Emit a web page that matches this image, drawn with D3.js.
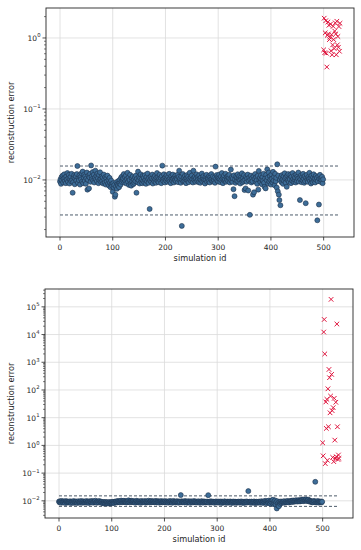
<!DOCTYPE html>
<html>
<head>
<meta charset="utf-8">
<script src="https://d3js.org/d3.v7.min.js"></script>
<style>
    body { margin: 0; background: #fff; }
    text { font-family: "DejaVu Sans", sans-serif; fill: #262626; }
</style>
</head>
<body>
<script>
// reconstruction error per simulation, ids 0..499 normal, 500.. anomalous
const topNormal = [
    0.0095, 0.0102, 0.0088, 0.0110, 0.0098, 0.0115, 0.0092, 0.0105, 0.0120, 0.0097, 0.0108, 0.0090, 0.0112, 0.0101, 0.0125, 0.0094, 0.0106, 0.0118, 0.0089, 0.0103,
    0.0111, 0.0096, 0.0122, 0.0100, 0.0066, 0.0093, 0.0109, 0.0117, 0.0087, 0.0104, 0.0113, 0.0098, 0.0121, 0.0157, 0.0091, 0.0107, 0.0099, 0.0116, 0.0086, 0.0110,
    0.0102, 0.0124, 0.0095, 0.0131, 0.0090, 0.0108, 0.0119, 0.0097, 0.0113, 0.0088, 0.0105, 0.0127, 0.0073, 0.0100, 0.0115, 0.0076, 0.0109, 0.0122, 0.0094, 0.0160,
    0.0111, 0.0103, 0.0129, 0.0098, 0.0118, 0.0092, 0.0107, 0.0135, 0.0101, 0.0114, 0.0096, 0.0123, 0.0106, 0.0090, 0.0117, 0.0099, 0.0128, 0.0104, 0.0093, 0.0112,
    0.0097, 0.0108, 0.0089, 0.0119, 0.0102, 0.0091, 0.0110, 0.0086, 0.0105, 0.0095, 0.0115, 0.0088, 0.0100, 0.0083, 0.0107, 0.0092, 0.0079, 0.0098, 0.0087, 0.0082,
    0.0068, 0.0090, 0.0078, 0.0085, 0.0058, 0.0062, 0.0080, 0.0093, 0.0075, 0.0088, 0.0083, 0.0097, 0.0079, 0.0091, 0.0101, 0.0086, 0.0108, 0.0094, 0.0113, 0.0099,
    0.0105, 0.0121, 0.0092, 0.0110, 0.0097, 0.0116, 0.0089, 0.0103, 0.0126, 0.0094, 0.0108, 0.0085, 0.0100, 0.0118, 0.0088, 0.0083, 0.0106, 0.0095, 0.0112, 0.0087,
    0.0101, 0.0091, 0.0109, 0.0096, 0.0115, 0.0066, 0.0104, 0.0093, 0.0131, 0.0099, 0.0111, 0.0089, 0.0106, 0.0120, 0.0094, 0.0102, 0.0090, 0.0114, 0.0097, 0.0108,
    0.0092, 0.0117, 0.0100, 0.0088, 0.0110, 0.0096, 0.0123, 0.0103, 0.0091, 0.0107, 0.0039, 0.0098, 0.0112, 0.0094, 0.0105, 0.0119, 0.0089, 0.0101, 0.0109, 0.0095,
    0.0114, 0.0102, 0.0091, 0.0108, 0.0125, 0.0097, 0.0110, 0.0093, 0.0104, 0.0118, 0.0099, 0.0107, 0.0090, 0.0113, 0.0159, 0.0101, 0.0096, 0.0120, 0.0105, 0.0092,
    0.0109, 0.0098, 0.0116, 0.0103, 0.0094, 0.0111, 0.0100, 0.0122, 0.0095, 0.0106, 0.0090, 0.0113, 0.0101, 0.0097, 0.0119, 0.0104, 0.0092, 0.0108, 0.0099, 0.0115,
    0.0096, 0.0107, 0.0102, 0.0118, 0.0093, 0.0110, 0.0135, 0.0099, 0.0105, 0.0091, 0.0112, 0.00225, 0.0100, 0.0121, 0.0095, 0.0108, 0.0097, 0.0114, 0.0103, 0.0090,
    0.0106, 0.0117, 0.0098, 0.0111, 0.0093, 0.0104, 0.0126, 0.0100, 0.0109, 0.0096, 0.0115, 0.0102, 0.0092, 0.0135, 0.0107, 0.0099, 0.0112, 0.0094, 0.0105, 0.0120,
    0.0097, 0.0110, 0.0101, 0.0093, 0.0116, 0.0104, 0.0091, 0.0108, 0.0099, 0.0123, 0.0095, 0.0106, 0.0113, 0.0098, 0.0102, 0.0089, 0.0111, 0.0100, 0.0118, 0.0094,
    0.0107, 0.0103, 0.0096, 0.0114, 0.0092, 0.0109, 0.0101, 0.0121, 0.0097, 0.0105, 0.0112, 0.0094, 0.0100, 0.0108, 0.0091, 0.0154, 0.0104, 0.0117, 0.0098, 0.0110,
    0.0095, 0.0106, 0.0119, 0.0102, 0.0093, 0.0111, 0.0099, 0.0125, 0.0104, 0.0090, 0.0108, 0.0115, 0.0097, 0.0101, 0.0122, 0.0094, 0.0109, 0.0100, 0.0113, 0.0096,
    0.0107, 0.0118, 0.0092, 0.0103, 0.0140, 0.0098, 0.0110, 0.0094, 0.0105, 0.0074, 0.0116, 0.0059, 0.0101, 0.0091, 0.0112, 0.0097, 0.0108, 0.0120, 0.0095, 0.0104,
    0.0113, 0.0099, 0.0089, 0.0109, 0.0102, 0.0124, 0.0093, 0.0106, 0.0097, 0.0117, 0.0072, 0.0100, 0.0076, 0.0111, 0.0094, 0.0105, 0.0119, 0.0071, 0.0098, 0.0108,
    0.00322, 0.0101, 0.0115, 0.0092, 0.0106, 0.0096, 0.0062, 0.0112, 0.0067, 0.0103, 0.0121, 0.0094, 0.0109, 0.0099, 0.0088, 0.0114, 0.0073, 0.0134, 0.0100, 0.0107,
    0.0093, 0.0116, 0.0102, 0.0087, 0.0110, 0.0097, 0.0122, 0.0091, 0.0080, 0.0105, 0.0076, 0.0118, 0.0099, 0.0141, 0.0108, 0.0089, 0.0127, 0.0095, 0.0113, 0.0101,
    0.0086, 0.0119, 0.0104, 0.0092, 0.0130, 0.0098, 0.0111, 0.0084, 0.0122, 0.0096, 0.0107, 0.0078, 0.0166, 0.0069, 0.0115, 0.0062, 0.0052, 0.0100, 0.0044, 0.0109,
    0.0093, 0.0117, 0.0101, 0.0088, 0.0112, 0.0097, 0.0124, 0.0105, 0.0091, 0.0109, 0.0080, 0.0115, 0.0099, 0.0121, 0.0094, 0.0106, 0.0102, 0.0118, 0.0090, 0.0111,
    0.0098, 0.0125, 0.0103, 0.0094, 0.0114, 0.0100, 0.0108, 0.0092, 0.0119, 0.0097, 0.0111, 0.0104, 0.0127, 0.0095, 0.0107, 0.0052, 0.0101, 0.0116, 0.0093, 0.0110,
    0.0099, 0.0122, 0.0105, 0.0091, 0.0113, 0.0096, 0.0047, 0.0108, 0.0118, 0.0100, 0.0094, 0.0110, 0.0103, 0.0126, 0.0097, 0.0106, 0.0089, 0.0115, 0.0101, 0.0093,
    0.0109, 0.0120, 0.0098, 0.0104, 0.0092, 0.0114, 0.0100, 0.0107, 0.0027, 0.0096, 0.0112, 0.0045, 0.0103, 0.0118, 0.0094, 0.0105, 0.0099, 0.0111, 0.0090, 0.0102
];
const topAnomaly = [
    0.68, 1.90, 0.62, 1.18, 1.75, 0.61, 0.39, 1.09, 1.68, 1.14, 1.51, 0.95, 1.02, 1.57, 0.66, 1.11,
    0.58, 0.80, 1.46, 0.95, 0.71, 1.25, 1.63, 1.14, 0.58, 1.72, 0.80, 1.05, 0.74, 1.45, 0.65, 1.61
];
const bottomNormal = [
    0.0094, 0.0088, 0.0097, 0.0091, 0.0085, 0.0099, 0.0090, 0.0093, 0.0087, 0.0096, 0.0089, 0.0092, 0.0084, 0.0098, 0.0091, 0.0086, 0.0095, 0.0090, 0.0088, 0.0093,
    0.0087, 0.0096, 0.0090, 0.0083, 0.0094, 0.0089, 0.0092, 0.0086, 0.0098, 0.0091, 0.0085, 0.0093, 0.0088, 0.0095, 0.0090, 0.0084, 0.0092, 0.0097, 0.0087, 0.0091,
    0.0093, 0.0086, 0.0099, 0.0089, 0.0092, 0.0085, 0.0096, 0.0090, 0.0088, 0.0094, 0.0087, 0.0091, 0.0098, 0.0086, 0.0093, 0.0089, 0.0095, 0.0084, 0.0092, 0.0097,
    0.0090, 0.0094, 0.0087, 0.0099, 0.0091, 0.0086, 0.0095, 0.0089, 0.0093, 0.0101, 0.0088, 0.0092, 0.0085, 0.0096, 0.0090, 0.0094, 0.0087, 0.0098, 0.0091, 0.0089,
    0.0086, 0.0092, 0.0084, 0.0089, 0.0081, 0.0090, 0.0085, 0.0088, 0.0082, 0.0091, 0.0086, 0.0083, 0.0089, 0.0080, 0.0087, 0.0084, 0.0090, 0.0082, 0.0088, 0.0085,
    0.0089, 0.0083, 0.0092, 0.0086, 0.0090, 0.0084, 0.0094, 0.0088, 0.0091, 0.0096, 0.0087, 0.0093, 0.0099, 0.0090, 0.0095, 0.0088, 0.0097, 0.0092, 0.0102, 0.0091,
    0.0096, 0.0089, 0.0094, 0.0100, 0.0092, 0.0098, 0.0090, 0.0095, 0.0087, 0.0093, 0.0099, 0.0091, 0.0104, 0.0094, 0.0088, 0.0097, 0.0092, 0.0101, 0.0095, 0.0090,
    0.0093, 0.0098, 0.0088, 0.0095, 0.0091, 0.0086, 0.0094, 0.0100, 0.0089, 0.0096, 0.0092, 0.0087, 0.0097, 0.0090, 0.0094, 0.0085, 0.0093, 0.0099, 0.0088, 0.0091,
    0.0095, 0.0089, 0.0092, 0.0098, 0.0086, 0.0094, 0.0090, 0.0096, 0.0088, 0.0093, 0.0101, 0.0091, 0.0087, 0.0095, 0.0092, 0.0099, 0.0089, 0.0094, 0.0090, 0.0097,
    0.0092, 0.0088, 0.0096, 0.0091, 0.0099, 0.0087, 0.0094, 0.0090, 0.0097, 0.0093, 0.0086, 0.0095, 0.0089, 0.0092, 0.0098, 0.0091, 0.0088, 0.0094, 0.0090, 0.0096,
    0.0089, 0.0093, 0.0097, 0.0087, 0.0092, 0.0095, 0.0090, 0.0086, 0.0094, 0.0091, 0.0098, 0.0088, 0.0093, 0.0096, 0.0090, 0.0085, 0.0092, 0.0099, 0.0089, 0.0094,
    0.0091, 0.0087, 0.0095, 0.0090, 0.0097, 0.0088, 0.0093, 0.0086, 0.0094, 0.0092, 0.0089, 0.0161, 0.0096, 0.0091, 0.0088, 0.0095, 0.0090, 0.0093, 0.0087, 0.0098,
    0.0092, 0.0089, 0.0094, 0.0086, 0.0091, 0.0097, 0.0088, 0.0093, 0.0090, 0.0085, 0.0096, 0.0092, 0.0089, 0.0094, 0.0087, 0.0091, 0.0098, 0.0090, 0.0093, 0.0088,
    0.0095, 0.0090, 0.0087, 0.0093, 0.0089, 0.0096, 0.0091, 0.0085, 0.0092, 0.0088, 0.0094, 0.0097, 0.0090, 0.0086, 0.0093, 0.0089, 0.0095, 0.0091, 0.0087, 0.0092,
    0.0090, 0.0094, 0.0088, 0.0160, 0.0091, 0.0086, 0.0093, 0.0089, 0.0096, 0.0092, 0.0087, 0.0090, 0.0094, 0.0088, 0.0091, 0.0085, 0.0093, 0.0089, 0.0095, 0.0090,
    0.0087, 0.0092, 0.0089, 0.0094, 0.0086, 0.0091, 0.0088, 0.0095, 0.0090, 0.0084, 0.0093, 0.0089, 0.0087, 0.0092, 0.0096, 0.0088, 0.0091, 0.0085, 0.0090, 0.0094,
    0.0089, 0.0086, 0.0093, 0.0090, 0.0087, 0.0095, 0.0091, 0.0088, 0.0084, 0.0092, 0.0089, 0.0094, 0.0086, 0.0090, 0.0093, 0.0087, 0.0091, 0.0085, 0.0089, 0.0092,
    0.0088, 0.0094, 0.0090, 0.0086, 0.0092, 0.0089, 0.0095, 0.0087, 0.0091, 0.0084, 0.0090, 0.0093, 0.0088, 0.0086, 0.0092, 0.0089, 0.0095, 0.0087, 0.0091, 0.0224,
    0.0089, 0.0093, 0.0087, 0.0091, 0.0085, 0.0094, 0.0090, 0.0086, 0.0092, 0.0088, 0.0095, 0.0089, 0.0083, 0.0091, 0.0087, 0.0093, 0.0090, 0.0085, 0.0092, 0.0088,
    0.0094, 0.0089, 0.0086, 0.0092, 0.0097, 0.0088, 0.0091, 0.0084, 0.0095, 0.0090, 0.0087, 0.0100, 0.0089, 0.0093, 0.0082, 0.0096, 0.0091, 0.0086, 0.0102, 0.0088,
    0.0093, 0.0079, 0.0098, 0.0087, 0.0105, 0.0084, 0.0110, 0.0076, 0.0095, 0.0081, 0.0103, 0.0072, 0.0090, 0.0053, 0.0097, 0.0068, 0.0086, 0.0064, 0.0092, 0.0078,
    0.0088, 0.0095, 0.0083, 0.0091, 0.0087, 0.0094, 0.0089, 0.0097, 0.0085, 0.0092, 0.0090, 0.0096, 0.0088, 0.0093, 0.0099, 0.0091, 0.0087, 0.0095, 0.0092, 0.0098,
    0.0094, 0.0100, 0.0091, 0.0097, 0.0103, 0.0093, 0.0099, 0.0095, 0.0102, 0.0096, 0.0105, 0.0098, 0.0094, 0.0101, 0.0097, 0.0106, 0.0099, 0.0095, 0.0103, 0.0100,
    0.0108, 0.0102, 0.0111, 0.0097, 0.0106, 0.0112, 0.0100, 0.0109, 0.0104, 0.0113, 0.0098, 0.0107, 0.0101, 0.0110, 0.0095, 0.0103, 0.0099, 0.0092, 0.0097, 0.0090,
    0.0094, 0.0088, 0.0096, 0.0091, 0.0099, 0.0093, 0.0485, 0.0089, 0.0095, 0.0087, 0.0092, 0.0098, 0.0090, 0.0086, 0.0094, 0.0091, 0.0089, 0.0095, 0.0088, 0.0093
];
const bottomAnomaly = [
    1.24, 0.42, 12300, 35000, 2000, 0.22, 37, 4.1, 46, 0.29, 110, 4.7, 550, 277, 15, 60,
    186000, 365, 18, 0.37, 23, 0.26, 50, 1.55, 0.34, 36, 0.39, 24000, 4.7, 0.31, 0.45, 0.34
];
const topThresholds = [0.0157, 0.00321];
const bottomThresholds = [0.0151, 0.0063];
const xTicks = [0, 100, 200, 300, 400, 500];
const topExponents = [-2, -1, 0];
const bottomExponents = [-2, -1, 0, 1, 2, 3, 4, 5];
const xLabel = 'simulation id';
const yLabel = 'reconstruction error';

const width = 361, height = 550;

let svg = d3.select('body')
    .append('svg')
    .attr('width', width)
    .attr('height', height);

function drawPanel(box, normal, anomaly, thresholds, exponents, yDomain) {
    let g = svg.append('g');

    let x = d3.scaleLinear()
        .domain([-26.55, 557.55])
        .range([box.left, box.right]);

    let y = d3.scaleLog()
        .domain(yDomain)
        .range([box.bottom, box.top]);

    let lastId = normal.length + anomaly.length - 1;

    // grid
    g.append('g')
        .selectAll('line')
        .data(xTicks)
        .enter()
        .append('line')
        .attr('x1', d => x(d)).attr('x2', d => x(d))
        .attr('y1', box.top).attr('y2', box.bottom)
        .attr('stroke', '#dadada').attr('stroke-width', 0.8);

    g.append('g')
        .selectAll('line')
        .data(exponents)
        .enter()
        .append('line')
        .attr('x1', box.left).attr('x2', box.right)
        .attr('y1', d => y(Math.pow(10, d))).attr('y2', d => y(Math.pow(10, d)))
        .attr('stroke', '#dadada').attr('stroke-width', 0.8);

    // threshold lines
    g.append('g')
        .selectAll('line')
        .data(thresholds)
        .enter()
        .append('line')
        .attr('x1', x(0)).attr('x2', x(lastId))
        .attr('y1', d => y(d)).attr('y2', d => y(d))
        .attr('stroke', '#3a4a5a')
        .attr('stroke-width', 0.9)
        .attr('stroke-dasharray', '3,2');

    // normal simulations
    g.append('g')
        .selectAll('circle')
        .data(normal)
        .enter()
        .append('circle')
        .attr('cx', (d, i) => x(i))
        .attr('cy', d => y(d))
        .attr('r', 2.5)
        .attr('fill', '#3d6d98')
        .attr('stroke', '#1c3049')
        .attr('stroke-width', 0.6);

    // anomalous simulations
    g.append('g')
        .selectAll('path')
        .data(anomaly)
        .enter()
        .append('path')
        .attr('transform', (d, i) => 'translate(' + x(normal.length + i) + ',' + y(d) + ')')
        .attr('d', 'M-2.3,-2.3L2.3,2.3M-2.3,2.3L2.3,-2.3')
        .attr('stroke', '#e0163f')
        .attr('stroke-width', 1)
        .attr('fill', 'none');

    // frame
    g.append('rect')
        .attr('x', box.left).attr('y', box.top)
        .attr('width', box.right - box.left)
        .attr('height', box.bottom - box.top)
        .attr('fill', 'none')
        .attr('stroke', '#262626')
        .attr('stroke-width', 0.9);

    // x ticks
    let xt = g.append('g')
        .selectAll('g')
        .data(xTicks)
        .enter()
        .append('g')
        .attr('transform', d => 'translate(' + x(d) + ',' + box.bottom + ')');
    xt.append('line').attr('y2', 3.5).attr('stroke', '#262626').attr('stroke-width', 0.8);
    xt.append('text')
        .attr('y', 13)
        .attr('text-anchor', 'middle')
        .attr('font-size', 7.5)
        .text(d => d);

    // minor y ticks
    let minor = [];
    for (let e = Math.floor(Math.log10(yDomain[0])); e <= Math.ceil(Math.log10(yDomain[1])); e++) {
        for (let k = 2; k < 10; k++) {
            let v = k * Math.pow(10, e);
            if (v > yDomain[0] && v < yDomain[1]) minor.push(v);
        }
    }
    g.append('g')
        .selectAll('line')
        .data(minor)
        .enter()
        .append('line')
        .attr('x1', box.left - 2).attr('x2', box.left)
        .attr('y1', d => y(d)).attr('y2', d => y(d))
        .attr('stroke', '#262626').attr('stroke-width', 0.6);

    // major y ticks
    let yt = g.append('g')
        .selectAll('g')
        .data(exponents)
        .enter()
        .append('g')
        .attr('transform', d => 'translate(' + box.left + ',' + y(Math.pow(10, d)) + ')');
    yt.append('line').attr('x2', -3.5).attr('stroke', '#262626').attr('stroke-width', 0.8);
    let lbl = yt.append('text')
        .attr('x', -5.5)
        .attr('y', 3)
        .attr('text-anchor', 'end')
        .attr('font-size', 7.5);
    lbl.append('tspan').text('10');
    lbl.append('tspan')
        .attr('dy', -3.5)
        .attr('font-size', 5.3)
        .text(d => String(d).replace('-', '\u2212'));

    // axis labels
    g.append('text')
        .attr('x', (box.left + box.right) / 2)
        .attr('y', box.bottom + 24)
        .attr('text-anchor', 'middle')
        .attr('font-size', 8.2)
        .text(xLabel);

    g.append('text')
        .attr('transform', 'translate(14,' + (box.top + box.bottom) / 2 + ') rotate(-90)')
        .attr('text-anchor', 'middle')
        .attr('font-size', 8.2)
        .text(yLabel);
}

drawPanel({ left: 46, right: 354, top: 8, bottom: 237 },
    topNormal, topAnomaly, topThresholds, topExponents, [0.00157, 2.645]);

drawPanel({ left: 45, right: 353, top: 289, bottom: 518 },
    bottomNormal, bottomAnomaly, bottomThresholds, bottomExponents, [0.0024, 440000]);
</script>
</body>
</html>
